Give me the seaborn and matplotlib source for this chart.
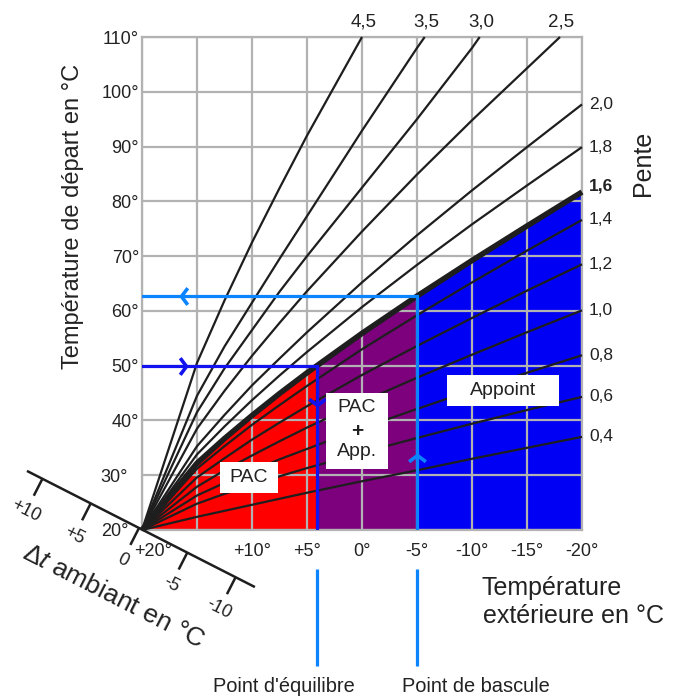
import numpy as np
import pandas as pd
import matplotlib
matplotlib.use("Agg")
import matplotlib.pyplot as plt
import matplotlib.transforms as mtransforms
from matplotlib.path import Path
from matplotlib.patches import Rectangle
import seaborn as sns

# ---------------- data ----------------
t_ext = [20, 15, 12.5, 10, 7.5, 5, 0, -5, -10, -15, -20]

pente_04 = [20, 22.4, 23.5, 24.6, 25.7, 26.8, 28.9, 30.9, 33.0, 35.0, 37.0]
pente_06 = [20, 24.8, 26.6, 28.2, 29.8, 31.3, 34.1, 36.8, 39.4, 41.9, 44.3]
pente_08 = [20, 26.3, 28.6, 30.8, 32.9, 34.8, 38.6, 42.1, 45.5, 48.7, 51.9]
pente_10 = [20, 27.9, 30.9, 33.6, 36.2, 38.7, 43.4, 47.8, 52.0, 56.1, 60.1]
pente_12 = [20, 29.6, 33.1, 36.5, 39.6, 42.6, 48.3, 53.6, 58.7, 63.7, 68.5]
pente_14 = [20, 31.2, 35.3, 39.2, 42.8, 46.3, 53.0, 59.2, 65.2, 71.0, 76.6]
pente_16 = [20, 32.2, 36.7, 40.9, 44.9, 48.7, 55.9, 62.7, 69.2, 75.5, 81.7]
pente_18 = [20, 33.8, 38.9, 43.7, 48.2, 52.5, 60.7, 68.4, 75.8, 82.9, 89.9]
pente_20 = [20, 35.3, 41.0, 46.4, 51.3, 56.1, 65.2, 73.8, 82.0, 89.9, 97.7]

ext_25 = [20, 15, 12.5, 10, 7.5, 5, 0, -5, -10, -15, -18]
pente_25 = [20, 38.5, 45.4, 51.8, 57.8, 63.6, 74.5, 84.9, 94.8, 104.3, 110]
ext_30 = [20, 15, 12.5, 10, 7.5, 5, 0, -5, -10, -10.7]
pente_30 = [20, 41.5, 49.5, 56.5, 63.5, 70.0, 82.5, 95.0, 108.0, 110]
ext_35 = [20, 15, 12.5, 10, 7.5, 5, 0, -5, -5.7]
pente_35 = [20, 44.5, 53.5, 61.5, 69.5, 77.3, 92.9, 108.0, 110]
ext_45 = [20, 15, 12.5, 10, 7.5, 5, 0]
pente_45 = [20, 50.5, 61.9, 72.5, 82.4, 92.0, 110]

right_names = ["0,4", "0,6", "0,8", "1,0", "1,2", "1,4", "1,6", "1,8", "2,0"]
right_curves = [pente_04, pente_06, pente_08, pente_10, pente_12,
                pente_14, pente_16, pente_18, pente_20]
top_names = ["2,5", "3,0", "3,5", "4,5"]
top_ext = [ext_25, ext_30, ext_35, ext_45]
top_curves = [pente_25, pente_30, pente_35, pente_45]

x_ticks = [20, 15, 10, 5, 0, -5, -10, -15, -20]
x_tick_labels = ["+20°", "", "+10°", "+5°", "0°", "-5°", "-10°", "-15°", "-20°"]
y_ticks = [20, 30, 40, 50, 60, 70, 80, 90, 100, 110]
y_tick_labels = ["20°", "30°", "40°", "50°", "60°", "70°", "80°", "90°", "100°", "110°"]

equilibre_ext, equilibre_flow = 4.1, 50.0
bascule_ext, bascule_flow = -5.0, 62.7

dt_ticks = [10, 5, 0, -5, -10]
dt_labels = ["+10", "+5", "0", "-5", "-10"]

# ---------------- style ----------------
sns.set_theme(style="white")
plt.rcParams["font.family"] = ["Liberation Sans", "DejaVu Sans"]
plt.rcParams["mathtext.fontset"] = "custom"
plt.rcParams["mathtext.rm"] = "Liberation Sans"
plt.rcParams["mathtext.it"] = "Liberation Sans:italic"

W, H = 677, 697
fig = plt.figure(figsize=(W / 100, H / 100), dpi=100)
ax = fig.add_axes([142 / W, (H - 530) / H, 440 / W, 493 / H])

RED = "#FF0000"
PURPLE = "#7D007D"
BLUE_FILL = "#0000F5"
DARK_BLUE = "#1212F0"
LIGHT_BLUE = "#0A84FF"
GRID = "#B2B2B2"
INK = "#1E1E1E"
TXT = "#222222"

# ---------------- fills under the 1,6 curve ----------------
ext_arr = np.array(t_ext, dtype=float)
c16 = np.array(pente_16, dtype=float)
m_red = ext_arr > equilibre_ext
red_x = list(ext_arr[m_red]) + [equilibre_ext]
red_y = list(c16[m_red]) + [equilibre_flow]
m_pur = (ext_arr < equilibre_ext) & (ext_arr > bascule_ext)
pur_x = [equilibre_ext] + list(ext_arr[m_pur]) + [bascule_ext]
pur_y = [equilibre_flow] + list(c16[m_pur]) + [bascule_flow]
m_blu = ext_arr < bascule_ext
blu_x = [bascule_ext] + list(ext_arr[m_blu])
blu_y = [bascule_flow] + list(c16[m_blu])
ax.fill_between(red_x, 20, red_y, color=RED, lw=0, zorder=1)
ax.fill_between(pur_x, 20, pur_y, color=PURPLE, lw=0, zorder=1)
ax.fill_between(blu_x, 20, blu_y, color=BLUE_FILL, lw=0, zorder=1)

# ---------------- curves ----------------
for name, vals in zip(right_names, right_curves):
    bold = name == "1,6"
    sns.lineplot(x=t_ext, y=vals, ax=ax, color=INK, sort=False,
                 linewidth=4.0 if bold else 1.6, zorder=4 if bold else 3,
                 clip_on=False, solid_capstyle="butt")
    ax.annotate(name, xy=(t_ext[-1], vals[-1]), xytext=(5, 4 if bold else 0),
                textcoords="offset points", ha="left", va="center",
                fontsize=12.5, color=TXT, fontweight="bold" if bold else "normal")
for name, ex, vals in zip(top_names, top_ext, top_curves):
    sns.lineplot(x=ex, y=vals, ax=ax, color=INK, sort=False, linewidth=1.6,
                 zorder=3, clip_on=False, solid_capstyle="butt")
    ax.annotate(name, xy=(ex[-1], vals[-1]), xytext=(1, 5),
                textcoords="offset points", ha="center", va="bottom",
                fontsize=13.5, color=TXT)

# ---------------- operating point lines ----------------
ax.plot([20, equilibre_ext, equilibre_ext], [equilibre_flow, equilibre_flow, 20],
        color=DARK_BLUE, lw=2.3, zorder=5, solid_joinstyle="miter")
ax.plot([20, bascule_ext, bascule_ext], [bascule_flow, bascule_flow, 20],
        color=LIGHT_BLUE, lw=2.3, zorder=5, solid_joinstyle="miter")

def chevron(direction):
    base = np.array([(-0.75, 1.0), (0.0, 0.0), (-0.75, -1.0)])
    rot = {"right": 0, "left": 180, "up": 90, "down": -90}[direction]
    a = np.deg2rad(rot)
    R = np.array([[np.cos(a), -np.sin(a)], [np.sin(a), np.cos(a)]])
    return Path(base @ R.T, [Path.MOVETO, Path.LINETO, Path.LINETO])

for (px, py, d, col) in [(16.0, equilibre_flow, "right", DARK_BLUE),
                         (equilibre_ext, 42.8, "down", DARK_BLUE),
                         (16.5, bascule_flow, "left", LIGHT_BLUE),
                         (bascule_ext, 33.7, "up", LIGHT_BLUE)]:
    ax.plot([px], [py], marker=chevron(d), markersize=12, mfc="none",
            mec=col, mew=2.6, zorder=6, linestyle="none")

# vertical markers below the chart
ax.vlines([equilibre_ext, bascule_ext], -0.079, -0.276,
          transform=ax.get_xaxis_transform(), colors=LIGHT_BLUE, lw=2.3,
          clip_on=False)

# ---------------- label boxes ----------------
boxes = [((7.64, 26.75), 12.91 - 7.64, 32.41 - 26.75),
         ((-2.36, 31.1), 3.27 + 2.36, 45.0 - 31.1),
         ((-17.91, 42.6), -7.73 + 17.91, 48.3 - 42.6)]
for (xy, w, h) in boxes:
    ax.add_patch(Rectangle(xy, w, h, facecolor="white", edgecolor="none", zorder=7))
ax.text(10.27, 29.6, "PAC", ha="center", va="center", fontsize=14, color=TXT, zorder=8)
ax.text(-12.8, 45.4, "Appoint", ha="center", va="center", fontsize=14, color=TXT, zorder=8)
ax.text(0.45, 42.4, "PAC", ha="center", va="center", fontsize=14, color=TXT, zorder=8)
ax.text(0.45, 38.0, "+", ha="center", va="center", fontsize=15, color=TXT,
        fontweight="bold", zorder=8)
ax.text(0.45, 34.4, "App.", ha="center", va="center", fontsize=14, color=TXT, zorder=8)

# ---------------- axes ----------------
ax.set_xlim(20, -20)
ax.set_ylim(20, 110)
ax.set_xticks(x_ticks)
ax.set_xticklabels(x_tick_labels)
ax.set_yticks(y_ticks)
ax.set_yticklabels(y_tick_labels)
ax.tick_params(axis="both", length=0, labelsize=13, labelcolor=TXT)
ax.tick_params(axis="x", pad=9)
ax.tick_params(axis="y", pad=2)
ax.grid(True, color=GRID, linewidth=1.6)
ax.set_axisbelow(False)
for sp in ax.spines.values():
    sp.set_color(GRID)
    sp.set_linewidth(1.6)
ax.set_facecolor("white")

off = mtransforms.ScaledTranslation(11 / 100, 0, fig.dpi_scale_trans)
xl = ax.get_xticklabels()
xl[0].set_transform(xl[0].get_transform() + off)
offl = mtransforms.ScaledTranslation(-11 / 100, 0, fig.dpi_scale_trans)
yl = ax.get_yticklabels()
for lab in yl[:2]:
    lab.set_transform(lab.get_transform() + offl)

# ---------------- overlay (pixel space) ----------------
ov = fig.add_axes([0, 0, 1, 1], zorder=10)
ov.set_xlim(0, W)
ov.set_ylim(H, 0)
ov.axis("off")
ov.patch.set_alpha(0)

ang = np.deg2rad(27)
dirv = np.array([np.cos(ang), np.sin(ang)])
perp = np.array([-np.sin(ang), np.cos(ang)])
origin = np.array([139.0, 528.0])
step = 54.2 / 5

def dt_pos(t):
    return origin + (-t) * step * dirv

p0, p1 = dt_pos(11.6), dt_pos(-12.0)
ov.plot([p0[0], p1[0]], [p0[1], p1[1]], color=INK, lw=1.8, solid_capstyle="butt")
for t, lab in zip(dt_ticks, dt_labels):
    a = dt_pos(t)
    b = a + perp * 19
    ov.plot([a[0], b[0]], [a[1], b[1]], color=INK, lw=1.8, solid_capstyle="butt")
    c = a + perp * 36
    ov.text(c[0], c[1], lab, ha="center", va="center", fontsize=13, color=TXT,
            rotation=-27, rotation_mode="anchor")
ov.text(113, 597, r"$\Delta t$ ambiant en °C", ha="center", va="center",
        fontsize=19, color=TXT, rotation=-27, rotation_mode="anchor")

# ---------------- titles / texts ----------------
fig.text(73 / W, 1 - 216 / H, "Température de départ en °C", rotation=90,
         ha="center", va="center", fontsize=17, color=TXT)
fig.text(643 / W, 1 - 163 / H, "Pente", rotation=90, ha="center", va="center",
         fontsize=18, color=TXT)
fig.text(482 / W, 1 - 595 / H, "Température", ha="left", va="baseline",
         fontsize=18, color=TXT)
fig.text(483 / W, 1 - 623 / H, "extérieure en °C", ha="left", va="baseline",
         fontsize=18, color=TXT)
fig.text(284 / W, 1 - 692 / H, "Point d'équilibre", ha="center", va="baseline",
         fontsize=14.4, color=TXT)
fig.text(476 / W, 1 - 692 / H, "Point de bascule", ha="center", va="baseline",
         fontsize=14.4, color=TXT)

fig.savefig("out.png", dpi=100, facecolor="white")
